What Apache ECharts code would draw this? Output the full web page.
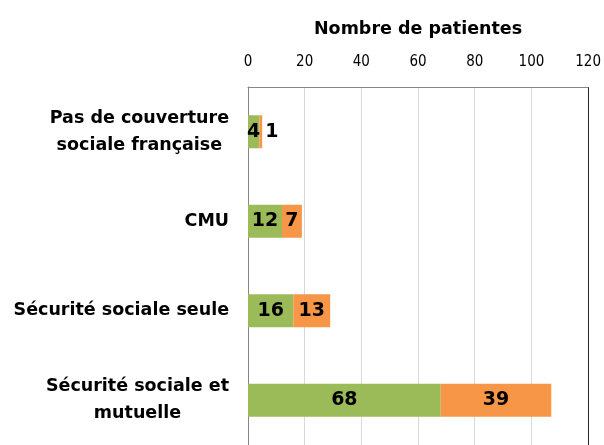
<!DOCTYPE html>
<html>
<head>
<meta charset="utf-8">
<script src="https://cdn.jsdelivr.net/npm/echarts@6/dist/echarts.min.js"></script>
<style>
    html, body { margin: 0; padding: 0; background: #fff; }
    #chart_con { width: 604px; height: 445px; }
</style>
</head>
<body>
<div id="chart_con"></div>
<script>
// categories, top to bottom
var categories = ['Pas de couverture\nsociale française', 'CMU', 'Sécurité sociale seule', 'Sécurité sociale et\nmutuelle'];
var greenValues = [4, 12, 16, 68];
var orangeValues = [1, 7, 13, 39];
var xTicks = [0, 20, 40, 60, 80, 100, 120];

var boldFont = '"DejaVu Sans", sans-serif';
var tickFont = '"DejaVu Sans Condensed", "DejaVu Sans", sans-serif';

var chart = echarts.init(document.getElementById('chart_con'));
const option = {
    animation: false,
    grid: {
        left: 248,
        right: 14,
        top: 87,
        height: 366,
        containLabel: false
    },
    xAxis: {
        type: 'value',
        position: 'top',
        min: xTicks[0],
        max: xTicks[xTicks.length - 1],
        interval: 20,
        name: 'Nombre de patientes',
        nameLocation: 'middle',
        nameGap: 49,
        nameTextStyle: {color: '#000', fontSize: 17.5, fontWeight: 'bold', fontFamily: boldFont},
        axisLine: {show: true, lineStyle: {color: '#868686'}},
        axisTick: {show: false},
        axisLabel: {color: '#000', fontSize: 15, margin: 17, fontFamily: tickFont},
        splitLine: {
            show: true,
            lineStyle: {color: ['#868686', '#d9d9d9', '#d9d9d9', '#d9d9d9', '#d9d9d9', '#d9d9d9', '#262626'], width: 1}
        }
    },
    yAxis: {
        type: 'category',
        inverse: true,
        data: categories,
        axisLine: {show: true, lineStyle: {color: '#868686'}},
        axisTick: {show: false},
        axisLabel: {
            margin: 19,
            align: 'right',
            formatter: function (val) {
                // each line centred inside the label block
                return val.split('\n').map(function (s) { return '{c|' + s + '}'; }).join('\n');
            },
            rich: {
                c: {
                    color: '#000',
                    fontSize: 17.5,
                    fontWeight: 'bold',
                    fontFamily: boldFont,
                    lineHeight: 27,
                    align: 'center'
                }
            }
        }
    },
    series: [
        {
            name: 'vert',
            type: 'bar',
            stack: 'total',
            barWidth: 33,
            data: greenValues,
            itemStyle: {color: '#9bbb59'},
            label: {show: true, position: 'inside', color: '#000', fontSize: 19, fontWeight: 'bold', fontFamily: boldFont}
        },
        {
            name: 'orange',
            type: 'bar',
            stack: 'total',
            barWidth: 33,
            data: orangeValues.map(function (v, i) {
                // the thin slice gets its label next to it
                if (v < 3) {
                    return {value: v, label: {position: 'right', distance: 3}};
                }
                return v;
            }),
            itemStyle: {color: '#f79646'},
            label: {show: true, position: 'inside', color: '#000', fontSize: 19, fontWeight: 'bold', fontFamily: boldFont}
        }
    ]
};
chart.setOption(option);
</script>
</body>
</html>
